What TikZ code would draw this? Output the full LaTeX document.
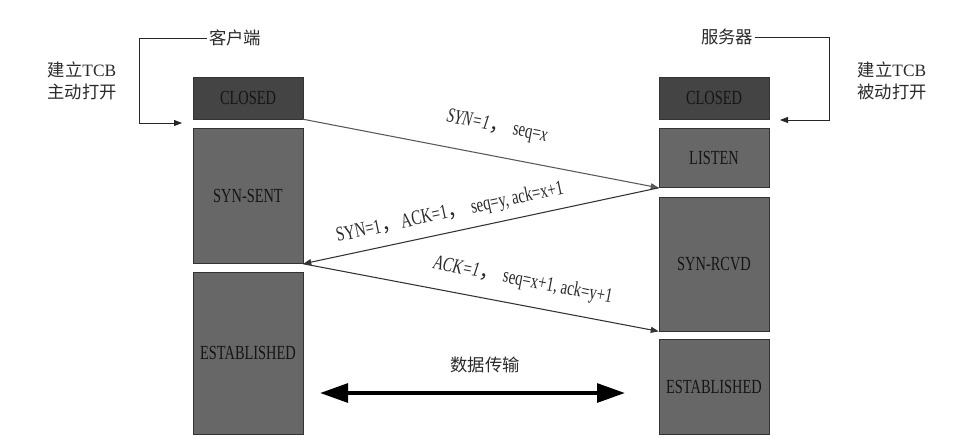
\documentclass[tikz,border=0pt]{standalone}
\usepackage{fontspec}
\setmainfont{Liberation Serif}
\newfontfamily\cjk{Noto Sans CJK SC}
\newfontfamily\boxfont{Liberation Serif}[FakeStretch=0.72]
\usetikzlibrary{arrows.meta,positioning}
\definecolor{darkbox}{HTML}{444444}
\definecolor{midbox}{HTML}{676767}
\definecolor{boxline}{HTML}{333333}
\definecolor{boxtext}{HTML}{151515}
\definecolor{lbltext}{HTML}{2A2A2A}
\tikzset{
  state/.style={draw=boxline, fill=midbox, text=boxtext, inner sep=0pt,
                font=\boxfont\fontsize{15}{17}\selectfont, minimum width=82.5pt},
  closedstate/.style={state, fill=darkbox},
  msg/.style={-{Triangle[length=6pt,width=4.5pt]}, draw=black!80, line width=0.8pt},
  msglbl/.style={font=\boxfont\fontsize{15.5}{17}\selectfont, text=lbltext, inner sep=1pt},
  side/.style={font=\cjk\fontsize{13}{16.5}\selectfont, text=lbltext, align=center, inner sep=1pt},
  open/.style={-{Triangle[length=6pt,width=4.5pt]}, line width=0.6pt, draw=black!85},
  data/.style={{Triangle[length=21pt,width=14pt]}-{Triangle[length=21pt,width=14pt]},
               line width=3pt},
}

\begin{document}
\begin{tikzpicture}[x=0.75pt, y=-0.75pt]
  \useasboundingbox (0,0) rectangle (956,437);
  % client states
  \node[closedstate, minimum height=31.5pt] (cclosed) at (248,98) {CLOSED};
  \node[state, minimum height=101.25pt, below=6.75pt of cclosed] (synsent) {SYN-SENT};
  \node[state, minimum height=121.5pt, below=6pt of synsent] (cestab) {ESTABLISHED};
  % server states
  \node[closedstate, minimum height=31.5pt] (sclosed) at (714,98) {CLOSED};
  \node[state, minimum height=44.25pt, below=6.75pt of sclosed] (listen) {LISTEN};
  \node[state, minimum height=100.5pt, below=6.75pt of listen] (synrcvd) {SYN-RCVD};
  \node[state, minimum height=71.25pt, below=6pt of synrcvd] (sestab) {ESTABLISHED};
  % active / passive open
  \node[side] (client) at (235,38) {客户端};
  \node[side] (server) at (727,37) {服务器};
  \node[side] (actopen) at (82,81) {建立{\rmfamily TCB}\\主动打开};
  \node[side] (pasopen) at (892,81) {建立{\rmfamily TCB}\\被动打开};
  \coordinate (cbend) at (139,123);
  \coordinate (ctip) at (182,123);
  \coordinate (sbend) at (829,120);
  \coordinate (stip) at (780,120);
  \draw[open] (client.west) -| (cbend) -- (ctip);
  \draw[open] (server.east) -| (sbend) -- (stip);
  % handshake
  \draw[msg, draw=black!65] (cclosed.south east) -- (listen.south west);
  \draw[msg] (listen.south west) -- (synsent.south east);
  \draw[msg] (synsent.south east) -- (synrcvd.south west);
  \node[msglbl, rotate=-11] (m1) at (497,127)
    {\textit{SYN=1}{\cjk ，}\,seq=\textit{x}};
  \node[msglbl, rotate=12] (m2) at (450,213)
    {SYN=1{\cjk ，}ACK=1{\cjk ，}\,seq=y,\,ack=x+1};
  \node[msglbl, rotate=-11] (m3) at (523,281)
    {\textit{ACK=1}{\cjk ，}\,seq=x+1,\,ack=y+1};
  % data transfer
  \node[side] (xfer) at (485,365) {数据传输};
  \coordinate (xl) at (320,393);
  \coordinate (xr) at (625,393);
  \draw[data] (xl) -- (xr);
\end{tikzpicture}
\end{document}
